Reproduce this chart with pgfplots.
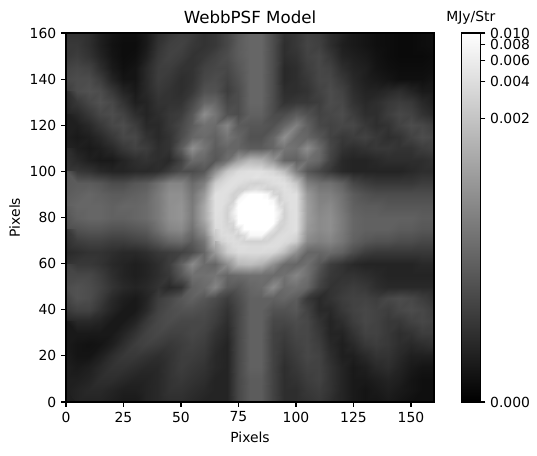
\documentclass[border=0pt]{standalone}
\usepackage{fontspec}
\setmainfont{DejaVu Sans}
\usepackage{pgfplots}
\pgfplotsset{compat=1.18}
\begin{document}
\begin{tikzpicture}
\path[use as bounding box] (-47.52pt,-38.16pt) rectangle (339.12pt,289.44pt);
\begin{axis}[
  at={(0,0)}, anchor=south west,
  scale only axis, width=264.96pt, height=265.68pt,
  xmin=0, xmax=160, ymin=0, ymax=160,
  enlargelimits=false,
  axis on top,
  axis background/.style={fill=black!88},
  xtick={0,25,...,150}, ytick={0,20,...,160},
  tick align=outside, xtick pos=bottom, ytick pos=left,
  major tick length=3.5pt,
  every tick/.style={black, line width=0.8pt},
  axis line style={line width=0.8pt},
  /pgf/number format/assume math mode=true,
  tick label style={font=\fontsize{10}{12}\selectfont},
  label style={font=\fontsize{10}{12}\selectfont},
  xlabel={Pixels}, ylabel={Pixels},
  title={WebbPSF Model},
  title style={font=\fontsize{12}{14}\selectfont, yshift=-3pt},
  colormap={gr}{gray(0cm)=(0); gray(1cm)=(1)},
  point meta min=0, point meta max=1,
  colorbar,
  colorbar style={
    at={(parent axis.north east)}, anchor=north west, xshift=11pt,
    scale only axis, width=13.9pt, height=265.68pt,
    ytick={0,0.76763,0.86759,0.92616,0.96774,1},
    yticklabels={0.000,0.002,0.004,0.006,0.008,0.010},
    ytick pos=right,
    tick align=outside, major tick length=3.5pt,
    every tick/.style={black, line width=0.8pt},
    axis line style={line width=0.8pt},
    yticklabel style={font=\fontsize{10}{12}\selectfont},
    title={MJy/Str},
    title style={font=\fontsize{10}{12}\selectfont, yshift=-3pt},
  },
]
\addplot[surf, shader=interp, mesh/rows=33, mesh/cols=33, point meta=explicit]
table[row sep=\\, x expr={mod(\coordindex,33)*5}, y expr={160-5*floor(\coordindex/33)}, meta=z] {
z\\
0.20\\0.20\\0.18\\0.12\\0.08\\0.06\\0.06\\0.10\\0.18\\0.22\\0.25\\0.24\\0.20\\0.22\\0.28\\0.35\\0.40\\0.40\\0.30\\0.20\\0.22\\0.26\\0.24\\0.18\\0.14\\0.10\\0.08\\0.06\\0.05\\0.04\\0.04\\0.05\\0.06\\
0.22\\0.22\\0.18\\0.12\\0.07\\0.05\\0.05\\0.10\\0.20\\0.25\\0.26\\0.22\\0.20\\0.22\\0.28\\0.36\\0.40\\0.40\\0.30\\0.18\\0.22\\0.27\\0.25\\0.18\\0.12\\0.10\\0.08\\0.06\\0.05\\0.04\\0.04\\0.05\\0.06\\
0.22\\0.24\\0.20\\0.14\\0.08\\0.05\\0.06\\0.12\\0.22\\0.26\\0.24\\0.20\\0.22\\0.26\\0.30\\0.36\\0.40\\0.40\\0.30\\0.18\\0.20\\0.26\\0.28\\0.22\\0.14\\0.12\\0.10\\0.07\\0.05\\0.04\\0.04\\0.04\\0.05\\
0.26\\0.28\\0.26\\0.18\\0.10\\0.06\\0.08\\0.16\\0.24\\0.24\\0.20\\0.20\\0.26\\0.28\\0.28\\0.34\\0.40\\0.40\\0.30\\0.16\\0.18\\0.24\\0.28\\0.26\\0.18\\0.14\\0.12\\0.08\\0.06\\0.05\\0.05\\0.05\\0.06\\
0.28\\0.30\\0.30\\0.24\\0.14\\0.08\\0.08\\0.16\\0.24\\0.22\\0.18\\0.20\\0.28\\0.30\\0.26\\0.32\\0.40\\0.40\\0.30\\0.16\\0.18\\0.22\\0.28\\0.28\\0.22\\0.16\\0.12\\0.10\\0.08\\0.06\\0.06\\0.06\\0.08\\
0.24\\0.30\\0.32\\0.30\\0.22\\0.14\\0.10\\0.16\\0.22\\0.20\\0.18\\0.22\\0.32\\0.32\\0.24\\0.30\\0.40\\0.40\\0.30\\0.18\\0.18\\0.20\\0.26\\0.30\\0.26\\0.18\\0.14\\0.14\\0.16\\0.18\\0.14\\0.10\\0.10\\
0.18\\0.22\\0.28\\0.32\\0.28\\0.20\\0.12\\0.14\\0.20\\0.20\\0.20\\0.28\\0.40\\0.40\\0.28\\0.30\\0.40\\0.40\\0.30\\0.20\\0.22\\0.22\\0.24\\0.30\\0.28\\0.20\\0.16\\0.18\\0.22\\0.24\\0.22\\0.16\\0.12\\
0.14\\0.16\\0.22\\0.28\\0.30\\0.26\\0.18\\0.14\\0.18\\0.22\\0.24\\0.34\\0.55\\0.46\\0.32\\0.30\\0.38\\0.38\\0.30\\0.30\\0.36\\0.32\\0.26\\0.28\\0.30\\0.24\\0.18\\0.18\\0.24\\0.28\\0.26\\0.20\\0.16\\
0.12\\0.12\\0.16\\0.22\\0.28\\0.30\\0.24\\0.16\\0.16\\0.22\\0.28\\0.36\\0.44\\0.42\\0.52\\0.36\\0.34\\0.34\\0.32\\0.40\\0.50\\0.38\\0.28\\0.26\\0.28\\0.28\\0.22\\0.18\\0.20\\0.26\\0.30\\0.28\\0.24\\
0.12\\0.10\\0.12\\0.16\\0.22\\0.28\\0.28\\0.20\\0.16\\0.20\\0.30\\0.40\\0.42\\0.38\\0.46\\0.40\\0.32\\0.32\\0.40\\0.56\\0.42\\0.40\\0.34\\0.26\\0.22\\0.24\\0.26\\0.22\\0.18\\0.20\\0.26\\0.30\\0.28\\
0.14\\0.12\\0.10\\0.12\\0.16\\0.22\\0.26\\0.24\\0.18\\0.20\\0.36\\0.56\\0.46\\0.36\\0.40\\0.40\\0.36\\0.36\\0.40\\0.46\\0.44\\0.55\\0.42\\0.28\\0.20\\0.18\\0.20\\0.22\\0.22\\0.20\\0.20\\0.24\\0.26\\
0.18\\0.16\\0.12\\0.10\\0.10\\0.14\\0.18\\0.20\\0.18\\0.16\\0.26\\0.42\\0.40\\0.34\\0.44\\0.62\\0.72\\0.70\\0.58\\0.40\\0.38\\0.44\\0.40\\0.26\\0.16\\0.14\\0.14\\0.16\\0.18\\0.18\\0.18\\0.18\\0.20\\
0.22\\0.22\\0.20\\0.16\\0.14\\0.14\\0.16\\0.16\\0.18\\0.24\\0.30\\0.30\\0.34\\0.56\\0.78\\0.86\\0.88\\0.88\\0.84\\0.74\\0.50\\0.34\\0.28\\0.22\\0.16\\0.14\\0.14\\0.14\\0.14\\0.14\\0.16\\0.18\\0.18\\
0.34\\0.36\\0.36\\0.34\\0.30\\0.30\\0.34\\0.36\\0.44\\0.52\\0.52\\0.42\\0.50\\0.80\\0.88\\0.86\\0.84\\0.84\\0.86\\0.88\\0.78\\0.50\\0.44\\0.44\\0.38\\0.28\\0.24\\0.22\\0.22\\0.22\\0.22\\0.24\\0.24\\
0.36\\0.38\\0.40\\0.38\\0.36\\0.36\\0.38\\0.40\\0.48\\0.56\\0.56\\0.46\\0.60\\0.88\\0.86\\0.90\\1.00\\1.00\\0.90\\0.86\\0.88\\0.60\\0.50\\0.50\\0.44\\0.36\\0.32\\0.30\\0.30\\0.30\\0.30\\0.30\\0.30\\
0.38\\0.40\\0.40\\0.40\\0.38\\0.40\\0.40\\0.42\\0.48\\0.56\\0.58\\0.48\\0.66\\0.88\\0.90\\1.00\\1.00\\1.00\\1.00\\0.90\\0.88\\0.62\\0.52\\0.54\\0.46\\0.38\\0.36\\0.36\\0.34\\0.34\\0.34\\0.34\\0.34\\
0.36\\0.38\\0.40\\0.40\\0.38\\0.38\\0.40\\0.42\\0.48\\0.56\\0.58\\0.48\\0.66\\0.88\\0.90\\1.00\\1.00\\1.00\\1.00\\0.90\\0.88\\0.62\\0.54\\0.56\\0.48\\0.40\\0.38\\0.38\\0.38\\0.38\\0.38\\0.36\\0.36\\
0.30\\0.32\\0.34\\0.34\\0.32\\0.32\\0.34\\0.36\\0.44\\0.52\\0.54\\0.44\\0.58\\0.86\\0.86\\0.92\\1.00\\1.00\\0.92\\0.86\\0.88\\0.60\\0.54\\0.56\\0.48\\0.40\\0.38\\0.38\\0.38\\0.36\\0.36\\0.34\\0.34\\
0.22\\0.24\\0.26\\0.26\\0.24\\0.24\\0.26\\0.28\\0.34\\0.40\\0.42\\0.36\\0.46\\0.76\\0.86\\0.84\\0.84\\0.84\\0.84\\0.86\\0.80\\0.54\\0.50\\0.52\\0.46\\0.38\\0.34\\0.32\\0.32\\0.30\\0.30\\0.28\\0.28\\
0.16\\0.18\\0.20\\0.20\\0.18\\0.16\\0.16\\0.18\\0.22\\0.24\\0.26\\0.30\\0.40\\0.60\\0.80\\0.86\\0.86\\0.86\\0.84\\0.74\\0.56\\0.40\\0.40\\0.42\\0.38\\0.30\\0.24\\0.22\\0.22\\0.22\\0.22\\0.22\\0.22\\
0.20\\0.22\\0.22\\0.20\\0.16\\0.14\\0.12\\0.14\\0.18\\0.24\\0.38\\0.54\\0.42\\0.40\\0.56\\0.72\\0.74\\0.70\\0.56\\0.42\\0.40\\0.44\\0.34\\0.24\\0.20\\0.16\\0.14\\0.14\\0.14\\0.14\\0.14\\0.16\\0.16\\
0.26\\0.28\\0.28\\0.24\\0.18\\0.14\\0.12\\0.14\\0.18\\0.22\\0.34\\0.44\\0.44\\0.46\\0.40\\0.42\\0.44\\0.44\\0.42\\0.44\\0.52\\0.44\\0.30\\0.22\\0.20\\0.20\\0.18\\0.16\\0.14\\0.14\\0.14\\0.14\\0.14\\
0.30\\0.32\\0.30\\0.26\\0.20\\0.16\\0.14\\0.16\\0.20\\0.16\\0.20\\0.38\\0.42\\0.52\\0.36\\0.34\\0.40\\0.42\\0.55\\0.42\\0.44\\0.40\\0.26\\0.20\\0.22\\0.24\\0.22\\0.18\\0.16\\0.16\\0.16\\0.16\\0.16\\
0.30\\0.32\\0.30\\0.24\\0.16\\0.12\\0.10\\0.14\\0.24\\0.28\\0.34\\0.38\\0.34\\0.30\\0.24\\0.30\\0.38\\0.38\\0.38\\0.40\\0.36\\0.22\\0.16\\0.20\\0.24\\0.26\\0.26\\0.24\\0.28\\0.30\\0.28\\0.24\\0.20\\
0.22\\0.26\\0.26\\0.20\\0.14\\0.10\\0.10\\0.16\\0.26\\0.30\\0.32\\0.32\\0.30\\0.26\\0.20\\0.28\\0.38\\0.38\\0.32\\0.32\\0.34\\0.26\\0.16\\0.16\\0.22\\0.26\\0.28\\0.26\\0.24\\0.28\\0.30\\0.28\\0.24\\
0.14\\0.16\\0.16\\0.14\\0.10\\0.10\\0.14\\0.22\\0.28\\0.30\\0.28\\0.28\\0.28\\0.24\\0.18\\0.28\\0.38\\0.38\\0.28\\0.28\\0.30\\0.28\\0.20\\0.14\\0.18\\0.24\\0.28\\0.26\\0.22\\0.22\\0.26\\0.28\\0.26\\
0.10\\0.10\\0.10\\0.10\\0.10\\0.14\\0.20\\0.26\\0.28\\0.26\\0.26\\0.28\\0.26\\0.20\\0.16\\0.28\\0.38\\0.38\\0.26\\0.24\\0.28\\0.28\\0.22\\0.14\\0.14\\0.20\\0.26\\0.26\\0.22\\0.18\\0.20\\0.24\\0.24\\
0.10\\0.08\\0.07\\0.08\\0.12\\0.18\\0.24\\0.26\\0.24\\0.22\\0.24\\0.26\\0.24\\0.18\\0.14\\0.28\\0.38\\0.38\\0.26\\0.22\\0.26\\0.28\\0.24\\0.16\\0.12\\0.16\\0.22\\0.24\\0.22\\0.18\\0.16\\0.18\\0.20\\
0.10\\0.08\\0.08\\0.12\\0.18\\0.22\\0.22\\0.20\\0.18\\0.20\\0.24\\0.24\\0.22\\0.16\\0.14\\0.28\\0.38\\0.38\\0.26\\0.20\\0.24\\0.28\\0.26\\0.18\\0.12\\0.12\\0.16\\0.20\\0.20\\0.16\\0.12\\0.12\\0.12\\
0.12\\0.10\\0.12\\0.16\\0.20\\0.20\\0.18\\0.16\\0.16\\0.20\\0.24\\0.22\\0.20\\0.16\\0.14\\0.28\\0.38\\0.38\\0.26\\0.18\\0.22\\0.26\\0.26\\0.20\\0.14\\0.10\\0.12\\0.16\\0.18\\0.14\\0.10\\0.08\\0.08\\
0.12\\0.12\\0.14\\0.18\\0.18\\0.16\\0.14\\0.14\\0.16\\0.20\\0.22\\0.20\\0.18\\0.14\\0.14\\0.28\\0.36\\0.36\\0.26\\0.18\\0.20\\0.24\\0.26\\0.20\\0.14\\0.10\\0.10\\0.12\\0.14\\0.12\\0.08\\0.06\\0.06\\
0.12\\0.14\\0.16\\0.16\\0.14\\0.12\\0.12\\0.14\\0.16\\0.20\\0.20\\0.18\\0.16\\0.14\\0.14\\0.28\\0.36\\0.36\\0.26\\0.18\\0.18\\0.22\\0.24\\0.20\\0.14\\0.10\\0.08\\0.10\\0.12\\0.10\\0.08\\0.06\\0.06\\
0.12\\0.14\\0.14\\0.14\\0.12\\0.10\\0.10\\0.14\\0.16\\0.18\\0.18\\0.16\\0.14\\0.14\\0.14\\0.28\\0.36\\0.36\\0.26\\0.18\\0.18\\0.20\\0.22\\0.18\\0.14\\0.10\\0.08\\0.08\\0.10\\0.08\\0.06\\0.06\\0.06\\
};
\addplot[surf, shader=interp, mesh/rows=15, mesh/cols=15, point meta=explicit]
table[row sep=\\, x expr={65+2.5*mod(\coordindex,15)}, y expr={100-2.5*floor(\coordindex/15)}, meta=z] {
z\\
0.56\\0.67\\0.78\\0.82\\0.86\\0.87\\0.88\\0.88\\0.88\\0.86\\0.84\\0.79\\0.74\\0.62\\0.50\\
0.68\\0.78\\0.84\\0.87\\0.88\\0.88\\0.88\\0.89\\0.88\\0.88\\0.88\\0.87\\0.84\\0.76\\0.64\\
0.80\\0.84\\0.87\\0.88\\0.87\\0.85\\0.83\\0.82\\0.83\\0.85\\0.87\\0.88\\0.88\\0.84\\0.78\\
0.84\\0.87\\0.88\\0.86\\0.82\\0.82\\0.86\\0.88\\0.86\\0.82\\0.82\\0.85\\0.88\\0.87\\0.83\\
0.88\\0.88\\0.87\\0.82\\0.84\\0.97\\1.00\\1.00\\1.00\\0.97\\0.84\\0.82\\0.87\\0.88\\0.88\\
0.88\\0.88\\0.86\\0.82\\0.97\\1.00\\1.00\\1.00\\1.00\\1.00\\0.97\\0.82\\0.86\\0.88\\0.88\\
0.88\\0.88\\0.83\\0.88\\1.00\\1.00\\1.00\\1.00\\1.00\\1.00\\1.00\\0.88\\0.83\\0.88\\0.88\\
0.88\\0.87\\0.82\\0.93\\1.00\\1.00\\1.00\\1.00\\1.00\\1.00\\1.00\\0.93\\0.82\\0.87\\0.88\\
0.88\\0.87\\0.82\\0.90\\1.00\\1.00\\1.00\\1.00\\1.00\\1.00\\1.00\\0.90\\0.82\\0.87\\0.88\\
0.87\\0.87\\0.83\\0.84\\1.00\\1.00\\1.00\\1.00\\1.00\\1.00\\1.00\\0.84\\0.83\\0.87\\0.88\\
0.86\\0.87\\0.85\\0.82\\0.88\\1.00\\1.00\\1.00\\1.00\\1.00\\0.88\\0.82\\0.85\\0.87\\0.88\\
0.81\\0.86\\0.87\\0.86\\0.82\\0.86\\0.97\\0.97\\0.97\\0.86\\0.82\\0.86\\0.87\\0.86\\0.84\\
0.76\\0.82\\0.86\\0.87\\0.86\\0.83\\0.82\\0.82\\0.82\\0.83\\0.86\\0.87\\0.86\\0.84\\0.80\\
0.68\\0.74\\0.82\\0.86\\0.87\\0.87\\0.86\\0.86\\0.86\\0.87\\0.87\\0.86\\0.82\\0.74\\0.68\\
0.60\\0.70\\0.80\\0.83\\0.86\\0.86\\0.86\\0.86\\0.86\\0.85\\0.84\\0.79\\0.74\\0.65\\0.56\\
};
\end{axis}
\end{tikzpicture}
\end{document}
